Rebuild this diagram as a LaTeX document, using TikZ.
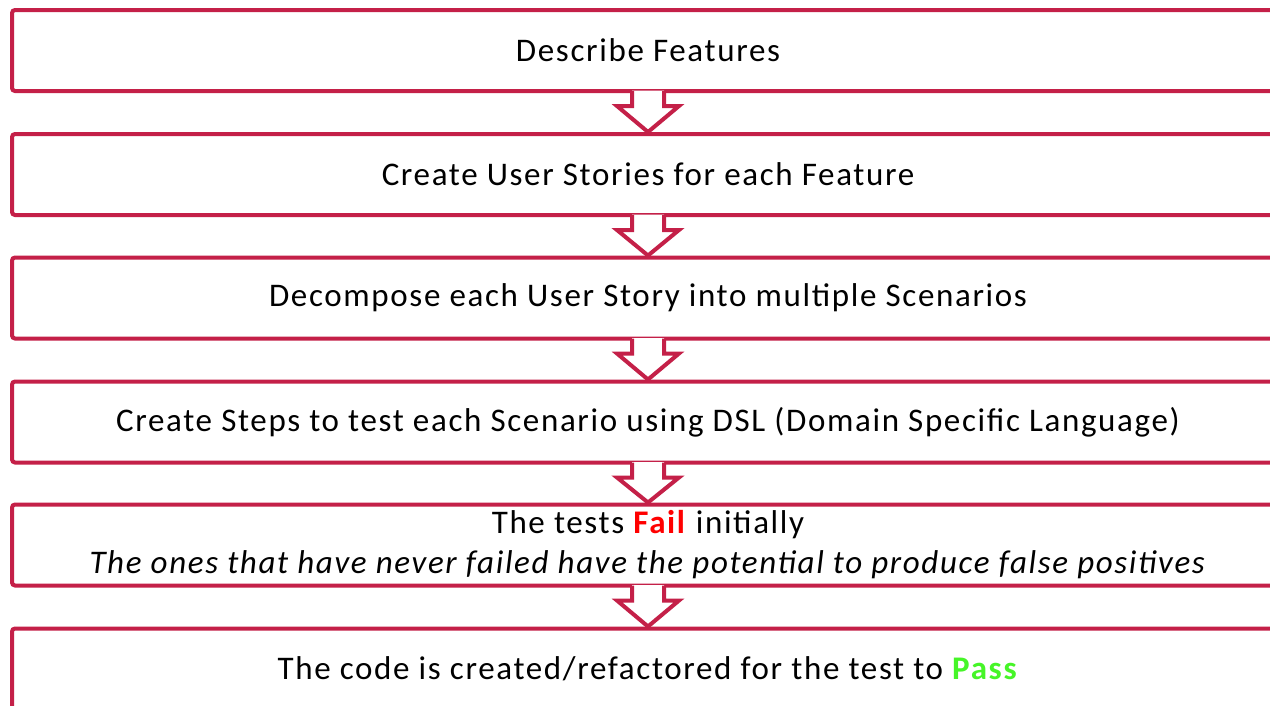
\documentclass[tikz,border=0pt]{standalone}
\usepackage{fontspec}
\setmainfont{Carlito}[LetterSpace=5]
\usetikzlibrary{calc}
\definecolor{frame}{RGB}{196,32,72}
\definecolor{failred}{RGB}{255,0,0}
\definecolor{passgreen}{RGB}{70,245,40}
\tikzset{
  stepbox/.style={draw=frame, line width=4pt, rounded corners=3pt,
    minimum width=1272pt, minimum height=81pt, inner sep=0pt,
    font=\fontsize{33}{40}\selectfont, align=center, text=black},
  arrowline/.style={draw=frame, line width=4pt, line join=miter},
}
% hollow block arrow from the bottom of one step to the top of the next
\newcommand{\flowarrow}[2]{%
  \fill[white] ($(#1.south)+(-16,-2.5)$) -- ($(#1.south)+(-16,13)$)
    -- ($(#1.south)+(-31,13)$) -- (#2.north) -- ($(#1.south)+(31,13)$)
    -- ($(#1.south)+(16,13)$) -- ($(#1.south)+(16,-2.5)$) -- cycle;
  \draw[arrowline] ($(#1.south)+(-16,-2)$) -- ($(#1.south)+(-16,13)$)
    -- ($(#1.south)+(-31,13)$) -- (#2.north) -- ($(#1.south)+(31,13)$)
    -- ($(#1.south)+(16,13)$) -- ($(#1.south)+(16,-2)$);
}
\begin{document}
\begin{tikzpicture}[x=1pt, y=-1pt]
  \useasboundingbox (0,0) rectangle (1270,705);
  \clip (0,0) rectangle (1270,705);
  \fill[white] (0,0) rectangle (1270,705);

  \node[stepbox] (s1) at (648,50.5) {Describe Features};
  \node[stepbox] (s2) at (648,174.5) {Create User Stories for each Feature};
  \node[stepbox] (s3) at (648,298) {Decompose each User Story into multiple Scenarios};
  \node[stepbox] (s4) at (648,422) {Create Steps to test each Scenario using DSL (Domain Specific Language)};
  \node[stepbox] (s5) at (648,545) {The tests \textcolor{failred}{\textbf{Fail}} initially\\
    \textit{The ones that have never failed have the potential to produce false positives}};
  \node[stepbox] (s6) at (648,669) {The code is created/refactored for the test to \textcolor{passgreen}{\textbf{Pass}}};

  \flowarrow{s1}{s2}
  \flowarrow{s2}{s3}
  \flowarrow{s3}{s4}
  \flowarrow{s4}{s5}
  \flowarrow{s5}{s6}
\end{tikzpicture}
\end{document}
